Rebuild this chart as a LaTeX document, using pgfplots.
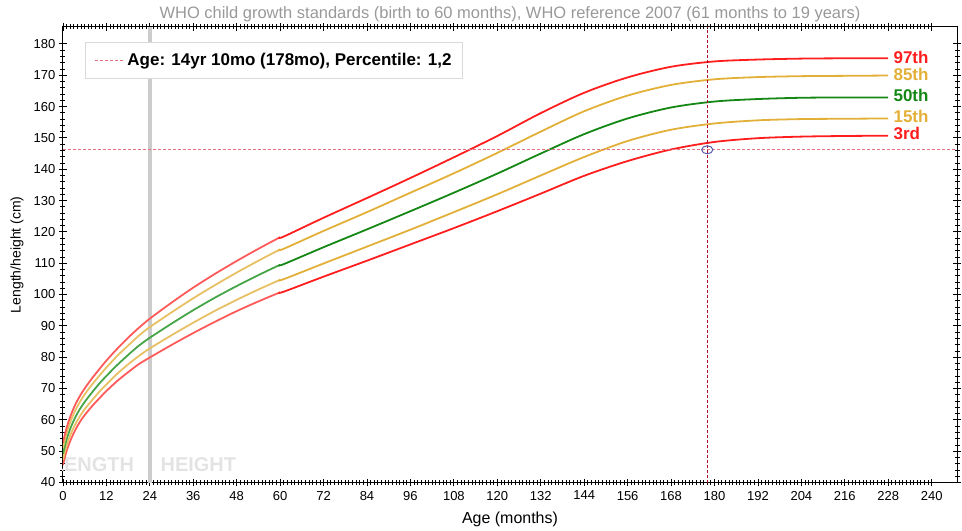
\documentclass[border=0pt]{standalone}
\usepackage{fontspec}
\setmainfont{Liberation Sans}
\usepackage{pgfplots}
\usepackage{pgfplotstable}
\pgfplotsset{compat=1.18}

\definecolor{pred}{RGB}{255,30,30}
\definecolor{pgold}{RGB}{226,176,56}
\definecolor{pgreen}{RGB}{20,135,20}
\definecolor{predl}{RGB}{255,90,90}
\definecolor{pgoldl}{RGB}{232,192,100}
\definecolor{pgreenl}{RGB}{70,165,70}
\definecolor{crossv}{RGB}{175,10,40}
\definecolor{crossh}{RGB}{230,110,130}
\definecolor{ring}{RGB}{90,90,175}

% WHO child growth standards, girls, 0-60 months
\pgfplotstableread{
m   p3    p15   p50   p85   p97
0   45.6  47.2  49.1  51.1  52.7
1   50.0  51.7  53.7  55.7  57.4
2   53.2  55.0  57.1  59.2  60.9
3   55.8  57.6  59.8  62.0  63.8
4   58.0  59.8  62.1  64.3  66.2
5   59.9  61.7  64.0  66.3  68.2
6   61.5  63.4  65.7  68.1  70.0
8   64.3  66.2  68.7  71.2  73.2
10  66.8  68.9  71.5  74.0  76.1
12  69.2  71.3  74.0  76.7  78.9
15  72.4  74.7  77.5  80.4  82.7
18  75.2  77.7  80.7  83.7  86.2
21  77.8  80.4  83.7  86.9  89.4
24  79.9  82.8  86.2  89.6  92.3
30  83.9  87.0  90.7  94.3  97.4
36  87.7  91.0  95.0  98.8  102.2
42  91.3  94.8  99.0  103.0 106.6
48  94.7  98.3  102.7 107.0 110.7
54  97.8  101.6 106.2 110.8 114.6
60  100.7 104.7 109.5 114.4 118.3
}\whostd

% WHO reference 2007, girls, 61-228 months
\pgfplotstableread{
m   p3    p15   p50   p85   p97
60  100.7 104.7 109.5 114.4 118.3
61  100.9 104.9 109.7 114.6 118.5
72  105.7 109.9 115.1 120.3 124.5
84  110.8 115.3 120.8 126.3 130.8
96  116.0 120.7 126.6 132.5 137.2
108 121.2 126.3 132.5 138.7 143.8
120 126.6 132.0 138.6 145.2 150.6
132 132.2 138.0 145.0 152.0 157.9
144 137.9 143.9 151.2 158.5 164.4
156 142.6 149.0 156.2 163.5 169.3
168 146.3 152.6 159.7 166.9 172.7
180 148.7 154.6 161.6 168.7 174.4
192 149.9 155.6 162.4 169.4 175.0
204 150.4 156.0 162.8 169.7 175.3
216 150.6 156.1 162.9 169.8 175.4
228 150.7 156.2 162.9 169.9 175.4
}\whoref

\begin{document}
\begin{tikzpicture}
\begin{axis}[
  scale only axis, width=895pt, height=456pt,
  xmin=0, xmax=247, ymin=40, ymax=185.4,
  xtick={0,12,...,240}, ytick={40,50,...,180},
  minor x tick num=11, minor y tick num=4,
  tick align=center, major tick length=8pt, minor tick length=5pt,
  tick style={black, line width=0.8pt},
  axis line style={black, line width=1pt},
  /pgf/number format/assume math mode=true,
  ticklabel style={font=\fontsize{13}{15}\selectfont},
  xticklabel style={yshift=-1pt},
  title={WHO child growth standards (birth to 60 months), WHO reference 2007 (61 months to 19 years)},
  title style={font=\fontsize{16.5}{19}\selectfont, text=gray!80, at={(0.5,1)}, anchor=south, yshift=-4pt},
  xlabel={Age (months)}, ylabel={Length/height (cm)},
  xlabel style={font=\fontsize{16}{18}\selectfont, at={(axis description cs:0.5,-0.081)}, anchor=center},
  ylabel style={font=\fontsize{14}{16}\selectfont, at={(axis description cs:-0.0515,0.5)}, anchor=center},
  legend style={at={(0.0246,0.967)}, anchor=north west, draw=gray!30, line width=1.2pt,
    font=\bfseries\fontsize{17}{19}\selectfont, inner xsep=9pt, inner ysep=9pt,
    cells={anchor=west}},
  legend image code/.code={\draw[#1] (0pt,0pt) -- (30pt,0pt);},
]
% length / height boundary
\addplot[gray!40, line width=4pt, forget plot] coordinates {(24,40) (24,185.4)};
\node[anchor=east, text=gray!22, font=\bfseries\fontsize{20}{20}\selectfont] at (axis cs:20.6,45.7) {LENGTH};
\node[anchor=west, text=gray!22, font=\bfseries\fontsize{20}{20}\selectfont] at (axis cs:26.0,45.7) {HEIGHT};

% 0-60 months
\addplot[predl, line width=1.8pt, smooth, forget plot] table[x=m, y=p3]{\whostd};
\addplot[pgoldl, line width=1.8pt, smooth, forget plot] table[x=m, y=p15]{\whostd};
\addplot[pgreenl, line width=1.8pt, smooth, forget plot] table[x=m, y=p50]{\whostd};
\addplot[pgoldl, line width=1.8pt, smooth, forget plot] table[x=m, y=p85]{\whostd};
\addplot[predl, line width=1.8pt, smooth, forget plot] table[x=m, y=p97]{\whostd};
% 61-228 months
\addplot[pred, line width=1.8pt, smooth, forget plot] table[x=m, y=p3]{\whoref};
\addplot[pgold, line width=1.8pt, smooth, forget plot] table[x=m, y=p15]{\whoref};
\addplot[pgreen, line width=1.8pt, smooth, forget plot] table[x=m, y=p50]{\whoref};
\addplot[pgold, line width=1.8pt, smooth, forget plot] table[x=m, y=p85]{\whoref};
\addplot[pred, line width=1.8pt, smooth, forget plot] table[x=m, y=p97]{\whoref};

% crosshair at the measured point
\addplot[crossv, dash pattern=on 3pt off 2pt, line width=1pt, forget plot] coordinates {(178,40) (178,185.4)};
\addplot[crossh, dash pattern=on 3pt off 2pt, line width=1pt] coordinates {(0,146.2) (247,146.2)};
\addlegendentry{Age: 14yr 10mo (178mo), Percentile: 1,2}
\addplot[only marks, mark=o, mark size=4pt, mark options={xscale=1.4, draw=ring, line width=1pt}, forget plot]
  coordinates {(178,146.2)};

% percentile labels
\node[anchor=west, text=pred, font=\bfseries\fontsize{17}{17}\selectfont] at (axis cs:228.5,175.8) {97th};
\node[anchor=west, text=pgold, font=\bfseries\fontsize{17}{17}\selectfont] at (axis cs:228.5,170.4) {85th};
\node[anchor=west, text=pgreen, font=\bfseries\fontsize{17}{17}\selectfont] at (axis cs:228.5,163.4) {50th};
\node[anchor=west, text=pgold, font=\bfseries\fontsize{17}{17}\selectfont] at (axis cs:228.5,157.0) {15th};
\node[anchor=west, text=pred, font=\bfseries\fontsize{17}{17}\selectfont] at (axis cs:228.5,151.3) {3rd};
\end{axis}
\path (current axis.south west) ++(-63pt,-45pt) (current axis.north east) ++(5pt,27pt);
\end{tikzpicture}
\end{document}
